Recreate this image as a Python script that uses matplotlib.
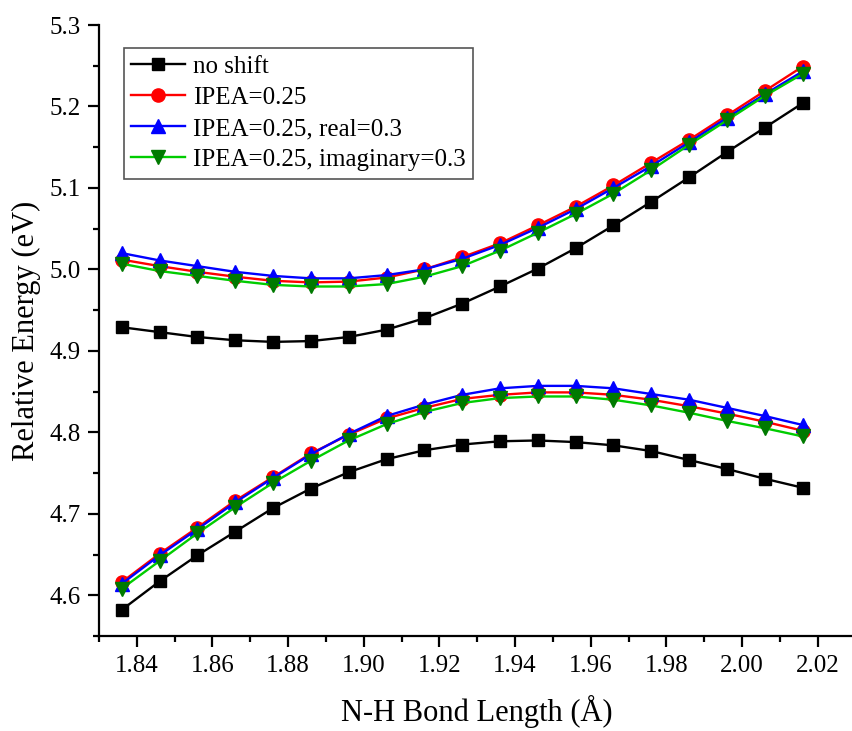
import matplotlib
matplotlib.use("Agg")
import matplotlib.pyplot as plt
from matplotlib.ticker import MultipleLocator, FormatStrFormatter

plt.rcParams['font.family'] = ['Liberation Serif', 'DejaVu Serif']

# N-H bond length (Angstrom)
bond = [1.836, 1.846, 1.856, 1.866, 1.876, 1.886, 1.896, 1.906, 1.916, 1.926,
        1.936, 1.946, 1.956, 1.966, 1.976, 1.986, 1.996, 2.006, 2.016]

# upper state energies (eV)
noshift_up = [4.929, 4.923, 4.917, 4.913, 4.911, 4.912, 4.917, 4.926, 4.940, 4.958,
              4.979, 5.001, 5.026, 5.054, 5.083, 5.113, 5.144, 5.174, 5.204]
ipea_up = [5.012, 5.004, 4.997, 4.991, 4.986, 4.984, 4.985, 4.990, 5.000, 5.015,
           5.032, 5.054, 5.077, 5.103, 5.131, 5.159, 5.189, 5.219, 5.249]
real_up = [5.020, 5.011, 5.004, 4.997, 4.992, 4.989, 4.989, 4.993, 5.000, 5.013,
           5.030, 5.051, 5.074, 5.100, 5.127, 5.156, 5.186, 5.215, 5.243]
imag_up = [5.007, 4.998, 4.992, 4.986, 4.981, 4.979, 4.979, 4.982, 4.991, 5.004,
           5.023, 5.045, 5.068, 5.093, 5.122, 5.153, 5.183, 5.213, 5.240]

# lower state energies (eV)
noshift_lo = [4.582, 4.617, 4.649, 4.678, 4.707, 4.731, 4.751, 4.767, 4.778, 4.785,
              4.789, 4.790, 4.788, 4.784, 4.777, 4.766, 4.755, 4.743, 4.732]
ipea_lo = [4.616, 4.651, 4.683, 4.716, 4.745, 4.774, 4.797, 4.817, 4.830, 4.841,
           4.846, 4.849, 4.849, 4.846, 4.840, 4.832, 4.823, 4.813, 4.802]
real_lo = [4.614, 4.649, 4.681, 4.714, 4.744, 4.773, 4.798, 4.820, 4.834, 4.846,
           4.854, 4.857, 4.857, 4.854, 4.847, 4.840, 4.830, 4.820, 4.809]
imag_lo = [4.608, 4.642, 4.676, 4.708, 4.738, 4.765, 4.790, 4.810, 4.825, 4.836,
           4.842, 4.844, 4.844, 4.840, 4.833, 4.824, 4.814, 4.805, 4.795]

labels = ['no shift', 'IPEA=0.25', 'IPEA=0.25, real=0.3', 'IPEA=0.25, imaginary=0.3']

fig = plt.figure(figsize=(8.52, 7.31), dpi=100)
ax = fig.add_axes([0.1162, 0.1300, 0.888, 0.8358])

#(upper, lower, line colour, marker colour, marker, size)
styles = [
    (noshift_up, noshift_lo, 'black', 'black', 's', 8.5),
    (ipea_up, ipea_lo, '#ff0000', '#ff0000', 'o', 9.5),
    (real_up, real_lo, '#0000ff', '#0000ff', '^', 10.5),
    (imag_up, imag_lo, '#00cc00', '#007a00', 'v', 10.5),
]
for (up, lo, lc, mc, mk, ms), lab in zip(styles, labels):
    ax.plot(bond, up, color=lc, lw=1.7, marker=mk, ms=ms, mfc=mc, mec=mc, label=lab)
    ax.plot(bond, lo, color=lc, lw=1.7, marker=mk, ms=ms, mfc=mc, mec=mc)

ax.set_xlim(1.83, 2.03)
ax.set_ylim(4.55, 5.3)
ax.xaxis.set_major_locator(MultipleLocator(0.02))
ax.xaxis.set_minor_locator(MultipleLocator(0.01))
ax.yaxis.set_major_locator(MultipleLocator(0.1))
ax.yaxis.set_minor_locator(MultipleLocator(0.05))
ax.xaxis.set_major_formatter(FormatStrFormatter('%.2f'))
ax.yaxis.set_major_formatter(FormatStrFormatter('%.1f'))

for s in ['top', 'right']:
    ax.spines[s].set_visible(False)
for s in ['left', 'bottom']:
    ax.spines[s].set_linewidth(1.6)
ax.tick_params(which='major', direction='out', length=8, width=1.6, labelsize=18, pad=5.5)
ax.tick_params(which='minor', direction='out', length=4, width=1.6)

ax.set_xlabel('N-H Bond Length (Å)', fontsize=22, labelpad=13)
ax.set_ylabel('Relative Energy (eV)', fontsize=22, labelpad=6)

leg = ax.legend(loc='upper left', bbox_to_anchor=(0.033, 0.962), borderaxespad=0,
                fontsize=18, handlelength=2.15, handletextpad=0.3, labelspacing=0.34,
                borderpad=0.3, fancybox=False, framealpha=1)
leg.get_frame().set_edgecolor('#555555')
leg.get_frame().set_linewidth(1.2)

plt.savefig('out.png', dpi=100)
